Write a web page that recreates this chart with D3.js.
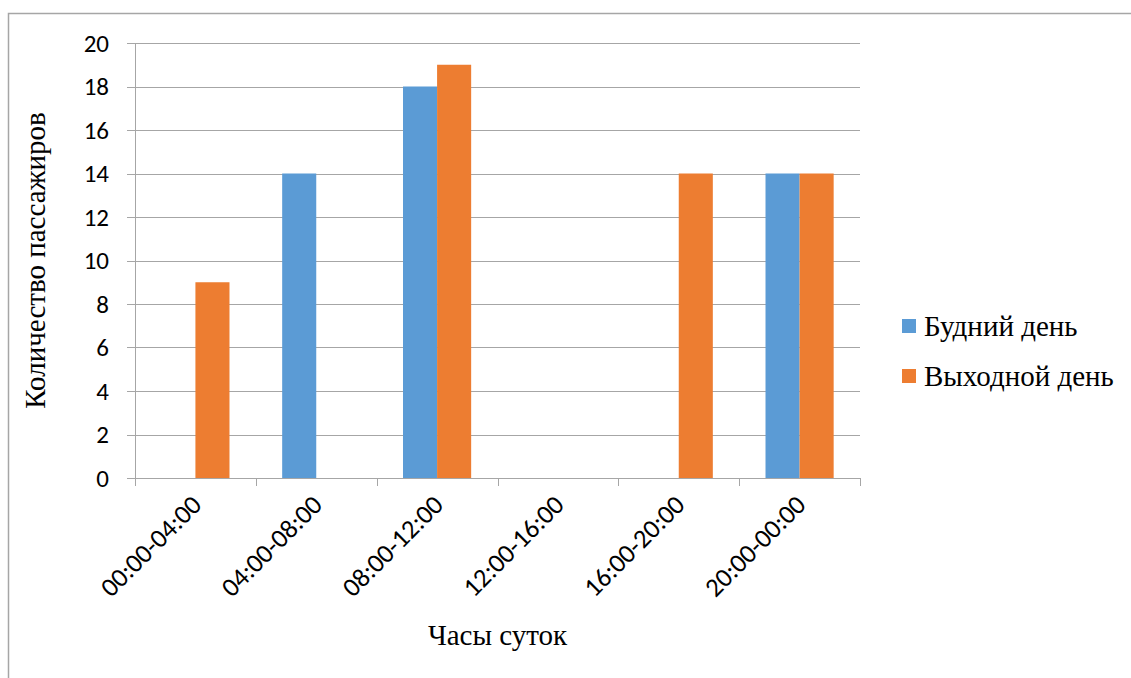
<!DOCTYPE html>
<html>
<head>
<meta charset="utf-8">
<script src="https://cdn.jsdelivr.net/npm/d3@7/dist/d3.min.js"></script>
<style>
  html, body { margin: 0; padding: 0; background: #fff; }
  svg { display: block; }
</style>
</head>
<body>
<svg id="chart" width="1131" height="678"></svg>
<script>
// Passenger counts by time of day
const categories = ["00:00-04:00", "04:00-08:00", "08:00-12:00", "12:00-16:00", "16:00-20:00", "20:00-00:00"];
const seriesNames = ["Будний день", "Выходной день"];
const weekday = [0, 14, 18, 0, 0, 14];
const weekend = [9, 0, 19, 0, 14, 14];
const yTicks = [0, 2, 4, 6, 8, 10, 12, 14, 16, 18, 20];
const colors = ["#5B9BD5", "#ED7D31"];
const yTitle = "Количество пассажиров";
const xTitle = "Часы суток";

const svg = d3.select("#chart");
const gridColor = "#A6A6A6";
const tickFont = "Carlito, Calibri, Lato, sans-serif";
const titleFont = "'Liberation Serif', 'Times New Roman', serif";

// outer frame
svg.append("rect")
  .attr("x", 8.5).attr("y", 13.5)
  .attr("width", 1140).attr("height", 700)
  .attr("fill", "none").attr("stroke", gridColor).attr("stroke-width", 1.5);

const plot = { left: 135, right: 860, top: 43, bottom: 478 };

const x = d3.scaleBand().domain(categories).range([plot.left, plot.right]).paddingInner(0).paddingOuter(0);
const y = d3.scaleLinear().domain([0, 20]).range([plot.bottom, plot.top]);

const barW = x.bandwidth() * 0.282;

// horizontal gridlines with left tick marks
svg.append("g").selectAll("line").data(yTicks).join("line")
  .attr("x1", plot.left - 8).attr("x2", plot.right)
  .attr("y1", d => Math.round(y(d)) + 0.5).attr("y2", d => Math.round(y(d)) + 0.5)
  .attr("stroke", gridColor).attr("stroke-width", 1);

// y axis line
svg.append("line")
  .attr("x1", plot.left + 0.5).attr("x2", plot.left + 0.5)
  .attr("y1", plot.top).attr("y2", plot.bottom)
  .attr("stroke", gridColor);

// y tick labels
svg.append("g").selectAll("text").data(yTicks).join("text")
  .attr("x", 109).attr("y", d => y(d))
  .attr("dy", "0.35em")
  .attr("text-anchor", "end")
  .attr("font-family", tickFont).attr("font-size", 25)
  .attr("fill", "#000")
  .text(d => d);

// bars
const series = [weekday, weekend];
series.forEach((vals, si) => {
  svg.append("g").selectAll("rect").data(categories).join("rect")
    .attr("x", (c) => x(c) + x.bandwidth() / 2 - barW + si * barW)
    .attr("width", barW)
    .attr("y", (c, i) => y(vals[i]))
    .attr("height", (c, i) => y(0) - y(vals[i]))
    .attr("fill", colors[si]);
});

// x axis line and category tick marks
svg.append("line")
  .attr("x1", plot.left).attr("x2", plot.right)
  .attr("y1", plot.bottom + 0.5).attr("y2", plot.bottom + 0.5)
  .attr("stroke", gridColor);
const edges = categories.map(c => x(c)).concat([plot.right]);
svg.append("g").selectAll("line").data(edges).join("line")
  .attr("x1", d => Math.round(d) + 0.5).attr("x2", d => Math.round(d) + 0.5)
  .attr("y1", plot.bottom).attr("y2", plot.bottom + 8)
  .attr("stroke", gridColor);

// rotated category labels
svg.append("g").selectAll("text").data(categories).join("text")
  .attr("transform", c => `translate(${x(c) + x.bandwidth() / 2 + 1},${plot.bottom + 22}) rotate(-45)`)
  .attr("text-anchor", "end")
  .attr("dy", "0.35em")
  .attr("font-family", tickFont).attr("font-size", 26.5)
  .attr("fill", "#000")
  .text(c => c);

// axis titles
svg.append("text")
  .attr("transform", `translate(45,${(plot.top + plot.bottom) / 2}) rotate(-90)`)
  .attr("text-anchor", "middle")
  .attr("font-family", titleFont).attr("font-size", 29)
  .attr("fill", "#000")
  .text(yTitle);

svg.append("text")
  .attr("x", (plot.left + plot.right) / 2).attr("y", 645)
  .attr("text-anchor", "middle")
  .attr("font-family", titleFont).attr("font-size", 29)
  .attr("fill", "#000")
  .text(xTitle);

// legend
const legend = svg.append("g");
seriesNames.forEach((name, i) => {
  const cy = 326 + i * 50;
  legend.append("rect")
    .attr("x", 902).attr("y", cy - 7).attr("width", 14).attr("height", 14)
    .attr("fill", colors[i]);
  legend.append("text")
    .attr("x", 924).attr("y", cy).attr("dy", "0.35em")
    .attr("font-family", titleFont).attr("font-size", 29)
    .attr("fill", "#000")
    .text(name);
});
</script>
</body>
</html>
